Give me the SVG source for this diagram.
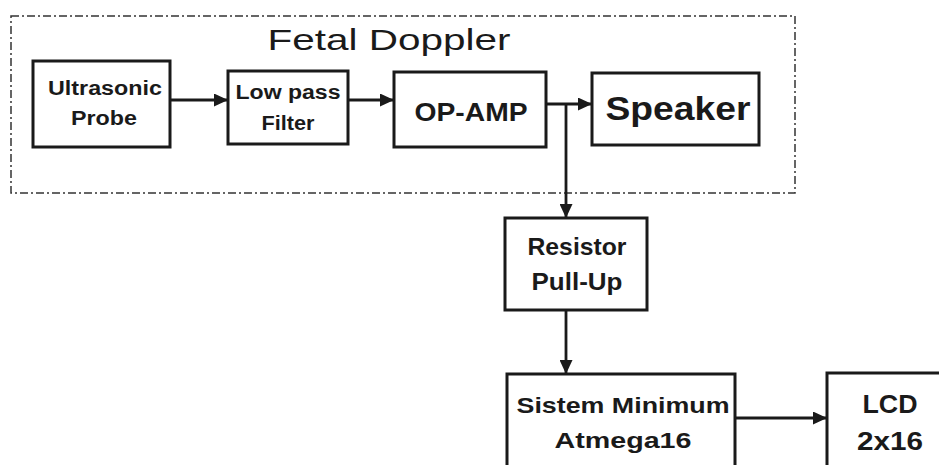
<svg xmlns="http://www.w3.org/2000/svg" width="939" height="465" viewBox="0 0 939 465">
<style>
.box{fill:#fff;stroke:#1a1a1a;stroke-width:3}
.lbl{font-family:"Liberation Sans",Arial,sans-serif;font-weight:bold;fill:#1a1a1a;text-anchor:middle}
.conn{stroke:#1a1a1a;stroke-width:2.8;fill:none}
</style>
<defs>
<marker id="ah" viewBox="0 0 14 13" refX="14" refY="6.5" markerWidth="14" markerHeight="13" markerUnits="userSpaceOnUse" orient="auto">
<path d="M0,0 L14,6.5 L0,13 Z" fill="#1a1a1a"/>
</marker>
</defs>
<g id="fetal-doppler">
<rect x="11" y="16" width="784" height="177" fill="none" stroke="#333" stroke-width="1.5" stroke-dasharray="8,3,2,3"/>
<text x="389" y="50" font-family="'Liberation Sans',Arial,sans-serif" font-size="29" fill="#1a1a1a" text-anchor="middle" textLength="243" lengthAdjust="spacingAndGlyphs">Fetal Doppler</text>
</g>
<g id="connectors">
<line class="conn" x1="170" y1="100" x2="228" y2="100" marker-end="url(#ah)"/>
<line class="conn" x1="348" y1="100" x2="394" y2="100" marker-end="url(#ah)"/>
<line class="conn" x1="546" y1="104" x2="592" y2="104" marker-end="url(#ah)"/>
<line class="conn" x1="566" y1="104" x2="566" y2="218" marker-end="url(#ah)"/>
<line class="conn" x1="566" y1="310" x2="566" y2="374" marker-end="url(#ah)"/>
<line class="conn" x1="735" y1="418" x2="827" y2="418" marker-end="url(#ah)"/>
</g>
<g id="ultrasonic-probe">
<rect class="box" x="33" y="61" width="137" height="86"/>
<text class="lbl" x="105" y="95" font-size="20" textLength="114" lengthAdjust="spacingAndGlyphs">Ultrasonic</text>
<text class="lbl" x="104" y="125" font-size="20" textLength="66" lengthAdjust="spacingAndGlyphs">Probe</text>
</g>
<g id="low-pass-filter">
<rect class="box" x="228" y="71" width="120" height="73"/>
<text class="lbl" x="288" y="99" font-size="20" textLength="105" lengthAdjust="spacingAndGlyphs">Low pass</text>
<text class="lbl" x="288" y="130" font-size="20" textLength="53" lengthAdjust="spacingAndGlyphs">Filter</text>
</g>
<g id="op-amp">
<rect class="box" x="394" y="72" width="152" height="75"/>
<text class="lbl" x="471" y="121" font-size="26" textLength="113" lengthAdjust="spacingAndGlyphs">OP-AMP</text>
</g>
<g id="speaker">
<rect class="box" x="592" y="73" width="167" height="72"/>
<text class="lbl" x="678" y="120" font-size="33" textLength="145" lengthAdjust="spacingAndGlyphs">Speaker</text>
</g>
<g id="resistor-pull-up">
<rect class="box" x="505" y="218" width="142" height="92"/>
<text class="lbl" x="577" y="255" font-size="24" textLength="99" lengthAdjust="spacingAndGlyphs">Resistor</text>
<text class="lbl" x="577" y="290" font-size="24" textLength="91" lengthAdjust="spacingAndGlyphs">Pull-Up</text>
</g>
<g id="sistem-minimum">
<rect class="box" x="507" y="374" width="228" height="100"/>
<text class="lbl" x="623" y="413" font-size="22" textLength="213" lengthAdjust="spacingAndGlyphs">Sistem Minimum</text>
<text class="lbl" x="623" y="448" font-size="22" textLength="137" lengthAdjust="spacingAndGlyphs">Atmega16</text>
</g>
<g id="lcd">
<rect class="box" x="827" y="373" width="120" height="100"/>
<text class="lbl" x="890" y="413" font-size="25" textLength="55" lengthAdjust="spacingAndGlyphs">LCD</text>
<text class="lbl" x="890" y="450" font-size="25" textLength="66" lengthAdjust="spacingAndGlyphs">2x16</text>
</g>
</svg>
